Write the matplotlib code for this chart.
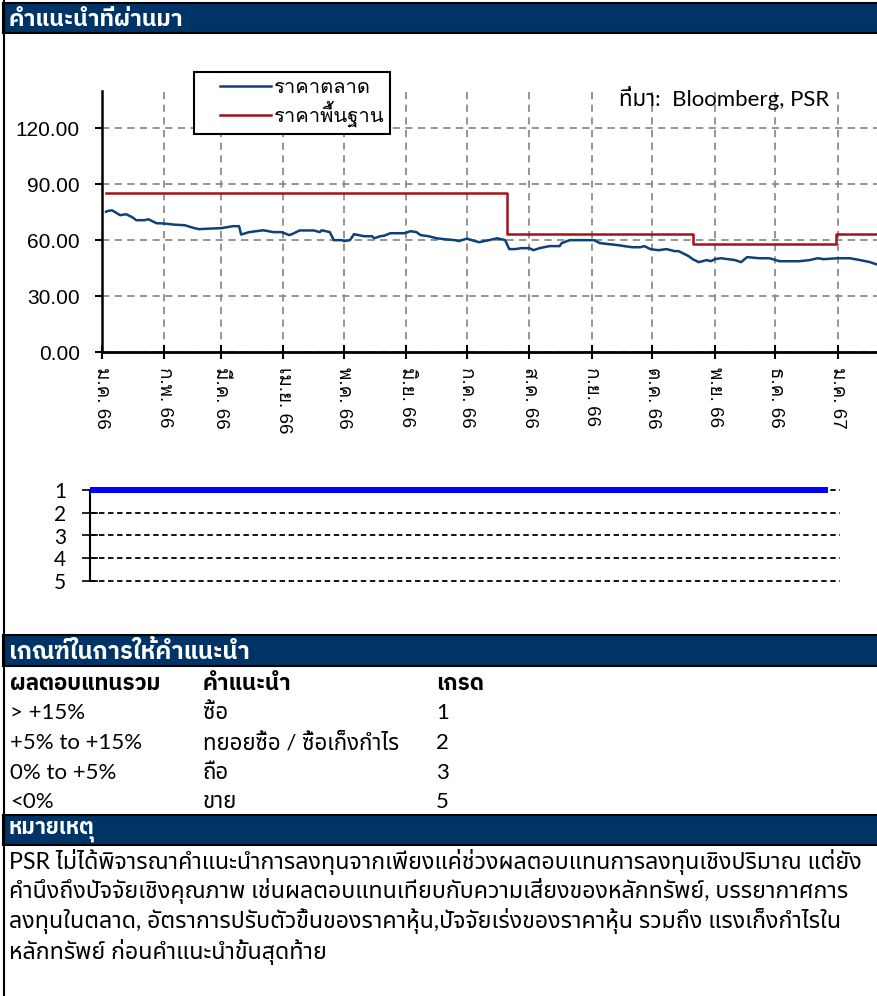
import matplotlib
matplotlib.use("Agg")
import matplotlib.pyplot as plt
from matplotlib import font_manager as fm
from matplotlib.ft2font import FT2Font
from matplotlib.patches import Rectangle
from matplotlib.lines import Line2D
from matplotlib.legend_handler import HandlerLine2D
import datetime as dt

# ---------------- data ----------------
price_dates = ['2023-01-03','2023-01-04','2023-01-06','2023-01-10','2023-01-13','2023-01-16','2023-01-18',
               '2023-01-22','2023-01-24','2023-01-28','2023-02-01','2023-02-06','2023-02-11','2023-02-16',
               '2023-02-18','2023-02-28','2023-03-01','2023-03-07','2023-03-10','2023-03-11','2023-03-15',
               '2023-03-22','2023-03-27','2023-03-31','2023-04-04','2023-04-06','2023-04-09','2023-04-16',
               '2023-04-19','2023-04-20','2023-04-24','2023-04-26','2023-04-30','2023-05-01','2023-05-04',
               '2023-05-06','2023-05-11','2023-05-15','2023-05-16','2023-05-19','2023-05-21','2023-05-24',
               '2023-05-31','2023-06-03','2023-06-06','2023-06-08','2023-06-12','2023-06-16','2023-06-20',
               '2023-06-25','2023-06-27','2023-07-01','2023-07-05','2023-07-07','2023-07-12','2023-07-16',
               '2023-07-20','2023-07-22','2023-07-25','2023-07-28','2023-08-01','2023-08-03','2023-08-06',
               '2023-08-11','2023-08-16','2023-08-17','2023-08-21','2023-08-31','2023-09-02','2023-09-05',
               '2023-09-10','2023-09-14','2023-09-17','2023-09-21','2023-09-25','2023-09-27','2023-09-30',
               '2023-10-04','2023-10-08','2023-10-12','2023-10-14','2023-10-17','2023-10-19','2023-10-21',
               '2023-10-24','2023-10-28','2023-10-30','2023-11-01','2023-11-04','2023-11-11','2023-11-14',
               '2023-11-17','2023-11-23','2023-11-28','2023-12-03','2023-12-13','2023-12-18','2023-12-22',
               '2023-12-25','2024-01-01','2024-01-07','2024-01-12','2024-01-17','2024-01-20']
prices = [75.2, 75.7, 76.0, 73.4, 73.9, 72.3, 70.7,
          70.7, 71.2, 69.1, 68.9, 68.3, 68.0, 66.4,
          65.9, 66.4, 66.4, 67.5, 67.5, 63.0, 64.3,
          65.3, 64.3, 64.3, 62.7, 63.6, 65.2, 65.2,
          64.3, 65.3, 64.3, 60.0, 60.0, 59.5, 60.0,
          63.2, 62.1, 62.1, 61.0, 62.1, 62.4, 63.7,
          63.7, 64.8, 64.3, 62.7, 62.1, 61.0, 60.5,
          60.0, 59.5, 60.8, 59.5, 58.9, 60.0, 61.0,
          60.0, 55.2, 55.2, 55.7, 55.7, 54.6, 55.7,
          56.8, 56.8, 58.4, 60.0, 60.0, 60.0, 58.4,
          57.8, 57.3, 56.8, 56.2, 56.2, 56.8, 55.2,
          54.6, 55.2, 54.1, 54.1, 52.5, 51.4, 49.8,
          48.2, 49.3, 48.7, 49.8, 50.3, 49.3, 48.2,
          50.9, 50.3, 50.3, 48.7, 48.7, 49.3, 50.3,
          49.8, 50.3, 50.3, 49.3, 48.2, 47.1]
target_dates = ['2023-01-03', '2023-07-21', '2023-10-21', '2023-12-31', '2024-01-20']
targets = [85.5, 63.4, 58.0, 63.4, 63.4]

rating_dates = ['2023-01-03', '2024-01-20']
ratings = [1, 1]

month_ticks = ['2023-01-01','2023-02-01','2023-03-01','2023-04-01','2023-05-01','2023-06-01','2023-07-01',
               '2023-08-01','2023-09-01','2023-10-01','2023-11-01','2023-12-01','2024-01-01']
month_labels = ['ม.ค. 66','ก.พ. 66','มี.ค. 66','เม.ย. 66','พ.ค. 66','มิ.ย. 66','ก.ค. 66',
                'ส.ค. 66','ก.ย. 66','ต.ค. 66','พ.ย. 66','ธ.ค. 66','ม.ค. 67']
y_ticks = [0, 30, 60, 90, 120]
rating_ticks = [1, 2, 3, 4, 5]

series_names = ['ราคาตลาด', 'ราคาพื้นฐาน']
source_text = 'ที่มา:  Bloomberg, PSR'
section_titles = ['คำแนะนำที่ผ่านมา', 'เกณฑ์ในการให้คำแนะนำ', 'หมายเหตุ']
table_header = ['ผลตอบแทนรวม', 'คำแนะนำ', 'เกรด']
table_returns = ['> +15%', '+5% to +15%', '0% to +5%', '<0%']
table_recs = ['ซื้อ', 'ทยอยซื้อ / ซื้อเก็งกำไร', 'ถือ', 'ขาย']
table_grades = ['1', '2', '3', '5']
note_lines = ['PSR ไม่ได้พิจารณาคำแนะนำการลงทุนจากเพียงแค่ช่วงผลตอบแทนการลงทุนเชิงปริมาณ แต่ยัง',
              'คำนึงถึงปัจจัยเชิงคุณภาพ เช่นผลตอบแทนเทียบกับความเสี่ยงของหลักทรัพย์, บรรยากาศการ',
              'ลงทุนในตลาด, อัตราการปรับตัวขึ้นของราคาหุ้น,ปัจจัยเร่งของราคาหุ้น รวมถึง แรงเก็งกำไรใน',
              'หลักทรัพย์ ก่อนคำแนะนำขั้นสุดท้าย']

# ---------------- fonts ----------------
thai_fonts = {}
for f in fm.fontManager.ttflist:
    try:
        cm = FT2Font(f.fname).get_charmap()
    except Exception:
        continue
    if 0x0E01 in cm and 0x0E33 in cm:
        w = f.weight if isinstance(f.weight, int) else 400
        thai_fonts.setdefault(f.name, set()).add(w)

def pick(prefs, need_bold=False):
    for p in prefs:
        if p in thai_fonts and (not need_bold or max(thai_fonts[p]) >= 600):
            return p
    return None

thai_loop = pick(['Loma', 'Tahoma', 'Garuda', 'Waree', 'Umpush', 'Noto Sans Thai Looped'])
thai_plain = pick(['Noto Sans Thai', 'Noto Sans Thai UI', 'IBM Plex Sans Thai', 'Leelawadee UI', 'Loma'])
thai_bold = pick(['Noto Sans Thai', 'Noto Sans Thai UI', 'IBM Plex Sans Thai', 'Leelawadee UI',
                  'Sarabun', 'Bai Jamjuree', 'Loma'], need_bold=True)

def fam(latin, th):
    return [latin] + ([th] if th else []) + ['DejaVu Sans']

fam_arial = fam('Liberation Sans', thai_loop)
fam_cal = fam('Lato', thai_plain)
fam_calb = fam('Lato', thai_bold)
plt.rcParams['font.family'] = fam_arial

W, H = 877, 996
fig = plt.figure(figsize=(W / 100, H / 100), dpi=100)
fig.patch.set_facecolor('white')

def fx(x):
    return x / W

def fy(y):
    return 1 - y / H

NAVY = '#003366'

# section bars
for (y0, y1), title, fsz in zip([(3, 33), (635, 666), (815, 845)], section_titles, [16.5, 17, 15.5]):
    fig.patches.append(Rectangle((fx(3), fy(y1)), fx(W - 3) + 0.01, (y1 - y0) / H,
                                 transform=fig.transFigure, facecolor=NAVY,
                                 edgecolor='black', lw=1.5, zorder=1))
    fig.text(fx(9), fy((y0 + y1) / 2 + 1), title, color='white', fontsize=fsz, fontweight='bold',
             family=fam_calb, va='center', ha='left')

# left border
fig.add_artist(Line2D([fx(3.5), fx(3.5)], [0, 1], transform=fig.transFigure, color='black', lw=1.5))

# ---------------- upper chart ----------------
d0 = dt.datetime(2023, 1, 1)
px_per_day = 2.016
ax = fig.add_axes([fx(102), fy(352), fx(W - 102), (352 - 91) / H])
pdx = [dt.datetime.strptime(d, '%Y-%m-%d') for d in price_dates]
tdx = [dt.datetime.strptime(d, '%Y-%m-%d') for d in target_dates]
ax.plot(pdx, prices, color='#10407A', lw=1.8, label=series_names[0], zorder=3)
ax.plot(tdx, targets, color='#A3121B', lw=1.8, drawstyle='steps-post', label=series_names[1], zorder=3)
ax.set_xlim(d0, d0 + dt.timedelta(days=(W - 102) / px_per_day))
ax.set_ylim(0, 140)
ax.set_yticks(y_ticks)
ax.set_yticklabels(['%.2f' % v for v in y_ticks])
mt = [dt.datetime.strptime(d, '%Y-%m-%d') for d in month_ticks]
ax.set_xticks(mt)
ax.set_xticklabels(month_labels, rotation=-90, fontsize=13.5, ha='center', va='top')
ax.grid(True, color='#8c8c8c', linestyle=(0, (4, 3)), lw=1.3)
for s in ['top', 'right']:
    ax.spines[s].set_visible(False)
ax.spines['left'].set_linewidth(1.8)
ax.spines['bottom'].set_linewidth(2.0)
ax.tick_params(axis='y', labelsize=15, direction='out', length=5, width=1.5, pad=11)
ax.tick_params(axis='x', direction='inout', length=10, width=1.5, pad=6)
leg = ax.legend(loc='upper left', bbox_to_anchor=(fx(194), fy(72)), bbox_transform=fig.transFigure,
                fancybox=False, edgecolor='black', framealpha=1, fontsize=14.5, handlelength=3.5,
                borderaxespad=0, borderpad=0.3, labelspacing=0.2, handletextpad=0.15,
                handler_map={Line2D: HandlerLine2D(xpad=1.0)})
leg.get_frame().set_linewidth(1.5)
leg.set_zorder(10)
fig.text(fx(619), fy(98), source_text, fontsize=16, family=fam_cal, va='center', ha='left')

# ---------------- lower chart (ratings) ----------------
ax2 = fig.add_axes([fx(90), fy(581), fx(840 - 90), (581 - 490) / H])
rdx = [dt.datetime.strptime(d, '%Y-%m-%d') for d in rating_dates]
for v in rating_ticks:
    ax2.axhline(v, color='black', linestyle=(0, (3, 2)), lw=1.3, clip_on=False, zorder=1)
ax2.plot(rdx, ratings, color='#0000FF', lw=4.3, solid_capstyle='butt', clip_on=False, zorder=3)
span = (rdx[-1] - rdx[0]) * (750 / 738)
ax2.set_xlim(rdx[0], rdx[0] + span)
ax2.set_ylim(5, 1)
ax2.set_yticks(rating_ticks)
ax2.set_yticklabels([str(v) for v in rating_ticks])
for s in ['top', 'right', 'bottom']:
    ax2.spines[s].set_visible(False)
ax2.spines['left'].set_linewidth(1.5)
ax2.set_xticks([])
ax2.tick_params(axis='y', labelsize=15, direction='inout', length=12, width=1.2, pad=11)
for lbl in ax2.get_yticklabels():
    lbl.set_family(fam_cal)

# ---------------- table ----------------
col_x = [10, 203, 436]
for x, t in zip(col_x, table_header):
    fig.text(fx(x), fy(684), t, fontsize=16, fontweight='bold', family=fam_calb, va='center', ha='left')
for i, yy in enumerate([713, 743, 773, 802]):
    for x, t in zip(col_x, [table_returns[i], table_recs[i], table_grades[i]]):
        fig.text(fx(x), fy(yy), t, fontsize=16, family=fam_cal, va='center', ha='left')

# ---------------- notes ----------------
for yy, t in zip([862, 891, 921, 952], note_lines):
    fig.text(fx(9), fy(yy), t, fontsize=16.7, family=fam_cal, va='center', ha='left')

fig.savefig('out.png', dpi=100)
